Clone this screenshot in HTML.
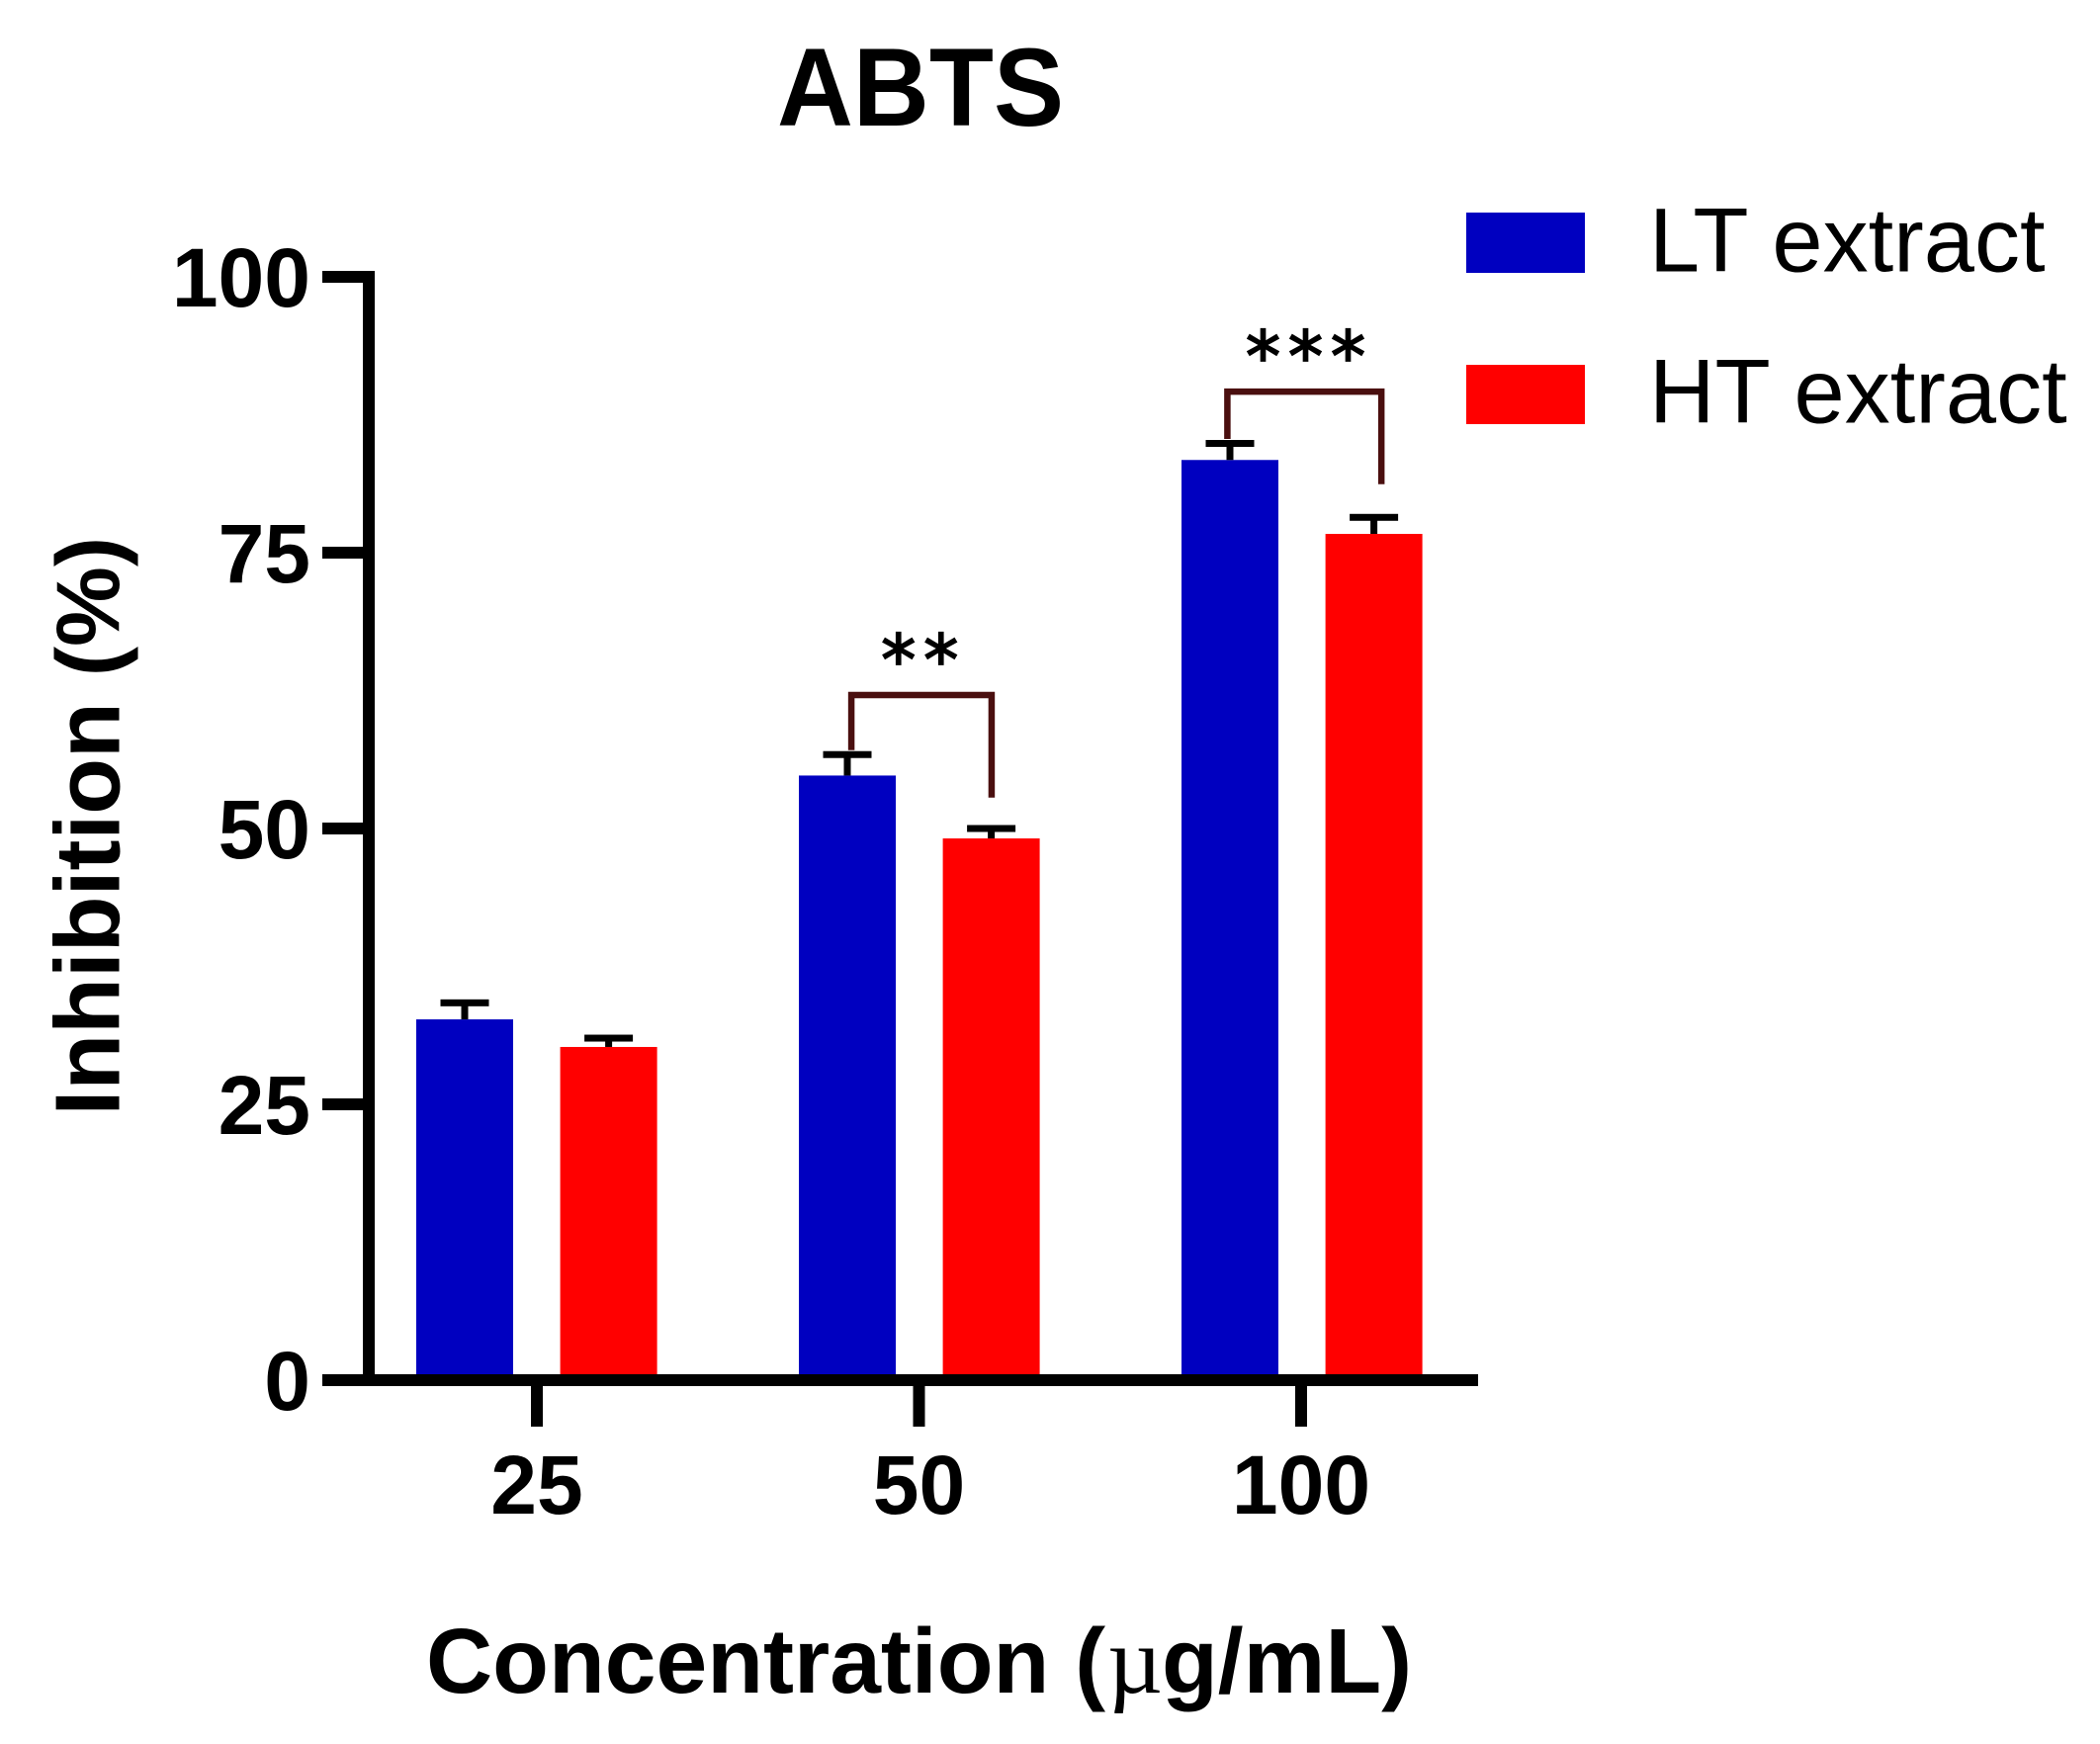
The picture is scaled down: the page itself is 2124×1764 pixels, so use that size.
<!DOCTYPE html>
<html lang="en">
<head>
<meta charset="utf-8">
<title>ABTS</title>
<style>
html,body{margin:0;padding:0;background:#fff;}
svg{display:block;}
text{font-family:"Liberation Sans",Arial,sans-serif;fill:#000;}
.b{font-weight:700;}
</style>
</head>
<body>
<svg id="chart" xmlns="http://www.w3.org/2000/svg" width="2124" height="1764" viewBox="0 0 2124 1764">
<rect x="0" y="0" width="2124" height="1764" fill="#fff"/>
<text class="b" x="786" y="127" font-size="112" textLength="290" lengthAdjust="spacingAndGlyphs">ABTS</text>
<text class="b" transform="translate(120.5,1128.5) rotate(-90)" font-size="93">Inhibition <tspan font-size="91">(%)</tspan></text>
<text class="b" x="431" y="1712" font-size="93">Concentration (<tspan x="1120" font-family="'Liberation Serif',serif" font-weight="400" font-size="97">µ</tspan><tspan x="1175">g/mL)</tspan></text>
<rect x="1483" y="215" width="120" height="61" fill="#0000c0"/>
<text x="1668" y="274.5" font-size="92">LT extract</text>
<rect x="1483" y="369" width="120" height="60" fill="#ff0000"/>
<text x="1668" y="427.5" font-size="92">HT extract</text>
<g id="marks"></g>
</svg>
<script>
const categories = ["25", "50", "100"];
const yTicks = [0, 25, 50, 75, 100];
const ltValues = [32.7, 54.8, 83.4];
const htValues = [30.2, 49.1, 76.7];
const ltErrors = [1.5, 1.9, 1.5];
const htErrors = [0.8, 0.9, 1.5];
const sigLabels = ["**", "***"];
const sigTop = [62.1, 89.6];
const sigLeftEnd = [57.1, 85.3];
const sigRightEnd = [52.8, 81.2];
const sigLeftCat = [0.823, 1.807];
const sigRightCat = [1.19, 2.21];
const sigLabelCat = [1.0124, 2.022];

const NS = "http://www.w3.org/2000/svg";
const root = document.getElementById("marks");
function yScale(v) { return 1396 - 11.16 * v; }
function xScale(c) { return 543 + 386.5 * c; }
function barCenter(c) { return 543 + 387 * c; }
function make(tag, attrs, text) {
  const el = document.createElementNS(NS, tag);
  for (const k in attrs) el.setAttribute(k, attrs[k]);
  if (text !== undefined) el.textContent = text;
  root.appendChild(el);
  return el;
}

function drawSeries(values, errors, offset, color, key) {
  values.forEach(function (v, i) {
    const cx = barCenter(i) + offset;
    const bar = make("rect", { x: cx - 49, y: yScale(v), width: 98, height: yScale(0) - yScale(v), fill: color });
    
    
    const top = yScale(v + errors[i]);
    const stem = make("rect", { x: cx - 3.5, y: top, width: 7, height: yScale(v) - top, fill: "#000" });
    
    
    const cap = make("rect", { x: cx - 24.5, y: top - 3.5, width: 49, height: 7, fill: "#000" });
    
    
  });
}
drawSeries(ltValues, ltErrors, -73, "#0000c0", "lt");
drawSeries(htValues, htErrors, 72.6, "#ff0000", "ht");

const yLine = make("rect", { x: 367, y: yScale(100) - 6, width: 12, height: yScale(0) - yScale(100) + 12, fill: "#000" });


const xLine = make("rect", { x: 326, y: yScale(0) - 6, width: 1169, height: 12, fill: "#000" });



yTicks.forEach(function (t) {
  const tick = make("rect", { x: 326, y: yScale(t) - 6, width: 45, height: 12, fill: "#000" });
  
  
  const label = make("text", { x: 314, y: yScale(t) + 30, "font-size": 84, "font-weight": 700, "text-anchor": "end" }, String(t));
  
  
});

categories.forEach(function (c, i) {
  const tick = make("rect", { x: xScale(i) - 6, y: yScale(0) + 6, width: 12, height: 41, fill: "#000" });
  
  
  const label = make("text", { x: xScale(i), y: 1531, "font-size": 84, "font-weight": 700, "text-anchor": "middle" }, c);
  
  
});

sigLabels.forEach(function (s, i) {
  const l = xScale(sigLeftCat[i]);
  const r = xScale(sigRightCat[i]);
  const d = "M" + l + " " + yScale(sigLeftEnd[i]) + " V" + yScale(sigTop[i]) + " H" + r + " V" + yScale(sigRightEnd[i]);
  const br = make("path", { d: d, fill: "none", stroke: "#4a0f0f", "stroke-width": 6.5 });
  
  
  const label = make("text", { x: xScale(sigLabelCat[i]), y: yScale(sigTop[i]) - 11, "font-size": 70, "text-anchor": "middle", "letter-spacing": 8, stroke: "#000", "stroke-width": 1.8, style: "font-family:'DejaVu Sans',sans-serif" }, s);
  
  
});
</script>
</body>
</html>
